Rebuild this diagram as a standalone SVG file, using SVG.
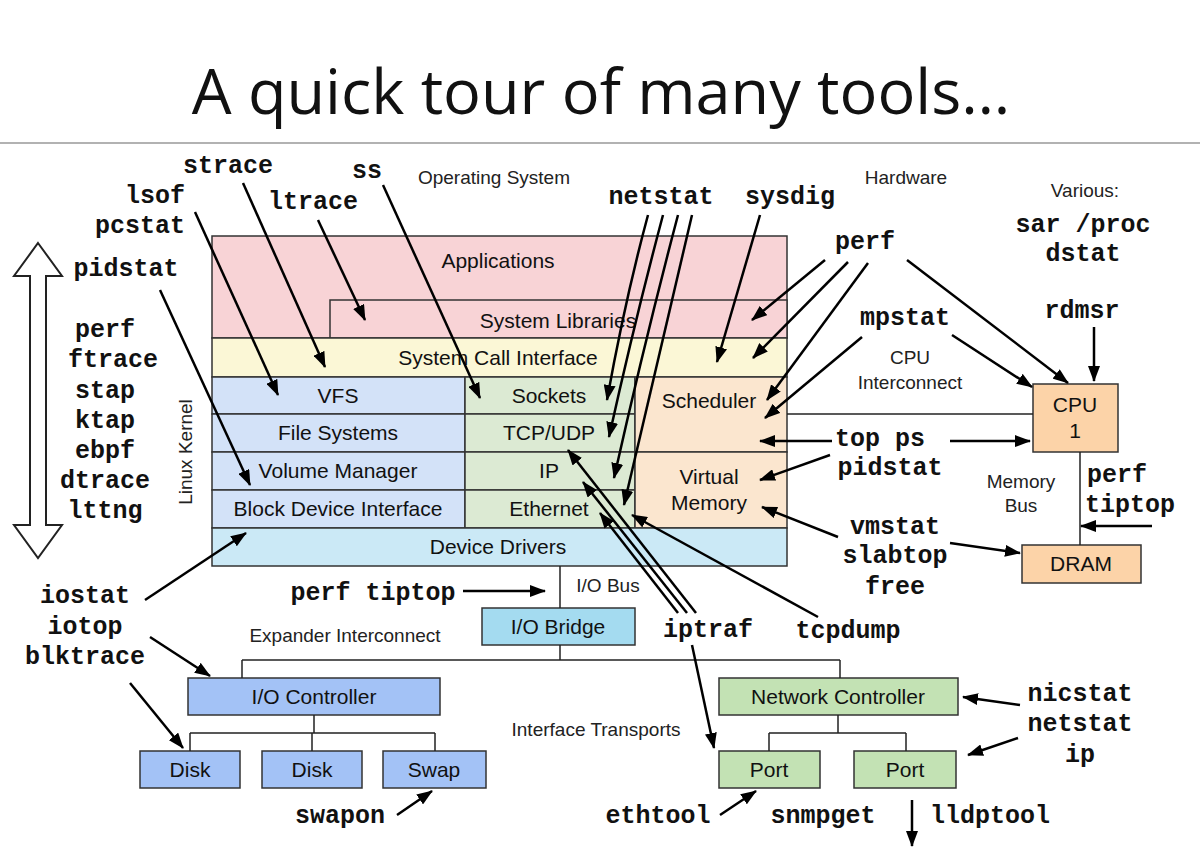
<svg xmlns="http://www.w3.org/2000/svg" width="1200" height="858" viewBox="0 0 1200 858">
<defs>
<marker id="ah" markerWidth="16" markerHeight="12" refX="15" refY="6" orient="auto" markerUnits="userSpaceOnUse"><path d="M0,0 L16,6 L0,12 Z" fill="#000"/></marker>
<style>
.t{font-family:"Liberation Mono",monospace;font-weight:bold;font-size:25px;fill:#111;text-anchor:middle}
.s{font-family:"Liberation Sans",Arial,sans-serif;font-size:21px;fill:#111;text-anchor:middle}
.l{font-family:"Liberation Sans",Arial,sans-serif;font-size:19px;fill:#222;text-anchor:middle}
.b{stroke:#333;stroke-width:1.5}
.a{stroke:#000;stroke-width:2.5;fill:none;marker-end:url(#ah)}
.w{stroke:#222;stroke-width:1.5;fill:none}
</style>
</defs>
<rect width="1200" height="858" fill="#fff"/>
<text x="601" y="114" font-family="Open Sans,Liberation Sans,sans-serif" font-size="63" text-anchor="middle" fill="#111">A quick tour of many tools…</text>
<line x1="0" y1="143" x2="1200" y2="143" stroke="#999" stroke-width="1.5"/>

<g id="os">
<rect id="applications" class="b" x="212" y="236" width="575" height="102" fill="#f8d3d6"/>
<rect id="syslib" class="b" x="330" y="300" width="457" height="38" fill="#f8d3d6"/>
<rect id="syscall" class="b" x="212" y="338" width="575" height="39" fill="#fbf7d6"/>
<rect id="vfs" class="b" x="212" y="377" width="253" height="37" fill="#d3e2f8"/>
<rect id="fs" class="b" x="212" y="414" width="253" height="38" fill="#d3e2f8"/>
<rect id="vm" class="b" x="212" y="452" width="253" height="38" fill="#d3e2f8"/>
<rect id="bdi" class="b" x="212" y="490" width="253" height="38" fill="#d3e2f8"/>
<rect id="sockets" class="b" x="465" y="377" width="170" height="37" fill="#dcead3"/>
<rect id="tcp" class="b" x="465" y="414" width="170" height="38" fill="#dcead3"/>
<rect id="ip" class="b" x="465" y="452" width="170" height="38" fill="#dcead3"/>
<rect id="eth" class="b" x="465" y="490" width="170" height="38" fill="#dcead3"/>
<rect id="sched" class="b" x="635" y="377" width="152" height="75" fill="#fbe6cf"/>
<rect id="virt" class="b" x="635" y="452" width="152" height="76" fill="#fbe6cf"/>
<rect id="dd" class="b" x="212" y="528" width="575" height="38" fill="#cbe9f6"/>
<text class="s" x="498" y="268">Applications</text>
<text class="s" x="558" y="328">System Libraries</text>
<text class="s" x="498" y="365">System Call Interface</text>
<text class="s" x="338" y="403">VFS</text>
<text class="s" x="338" y="440">File Systems</text>
<text class="s" x="338" y="478">Volume Manager</text>
<text class="s" x="338" y="516">Block Device Interface</text>
<text class="s" x="549" y="403">Sockets</text>
<text class="s" x="549" y="440">TCP/UDP</text>
<text class="s" x="549" y="478">IP</text>
<text class="s" x="549" y="516">Ethernet</text>
<text class="s" x="709" y="408">Scheduler</text>
<text class="s" x="709" y="484">Virtual</text>
<text class="s" x="709" y="510">Memory</text>
<text class="s" x="498" y="554">Device Drivers</text>
<text class="l" transform="translate(192,452) rotate(-90)">Linux Kernel</text>
</g>

<g id="cpu"><rect class="b" x="1033" y="384" width="85" height="68" fill="#fcd3a8"/><text class="s" x="1075" y="412">CPU</text><text class="s" x="1075" y="438">1</text></g>
<g id="dram"><rect class="b" x="1022" y="545" width="119" height="38" fill="#fcd3a8"/><text class="s" x="1081" y="571">DRAM</text></g>
<g id="iobridge"><rect class="b" x="482" y="608" width="153" height="37" fill="#a4dbf0"/><text class="s" x="558" y="634">I/O Bridge</text></g>
<g id="ioctrl"><rect class="b" x="188" y="678" width="252" height="37" fill="#a3c2f6"/><text class="s" x="314" y="704">I/O Controller</text></g>
<g id="disk1"><rect class="b" x="140" y="751" width="100" height="37" fill="#a3c2f6"/><text class="s" x="190" y="777">Disk</text></g>
<g id="disk2"><rect class="b" x="262" y="751" width="100" height="37" fill="#a3c2f6"/><text class="s" x="312" y="777">Disk</text></g>
<g id="swap"><rect class="b" x="383" y="751" width="103" height="37" fill="#a3c2f6"/><text class="s" x="434" y="777">Swap</text></g>
<g id="netctrl"><rect class="b" x="719" y="678" width="239" height="37" fill="#c3e2b4"/><text class="s" x="838" y="704">Network Controller</text></g>
<g id="port1"><rect class="b" x="719" y="751" width="101" height="37" fill="#c3e2b4"/><text class="s" x="769" y="777">Port</text></g>
<g id="port2"><rect class="b" x="854" y="751" width="102" height="37" fill="#c3e2b4"/><text class="s" x="905" y="777">Port</text></g>

<g id="wires">
<line class="w" x1="787" y1="414" x2="1033" y2="414"/>
<line class="w" x1="1080" y1="452" x2="1080" y2="545"/>
<line class="w" x1="560" y1="566" x2="560" y2="608"/>
<line class="w" x1="560" y1="645" x2="560" y2="660"/>
<line class="w" x1="242" y1="660" x2="840" y2="660"/>
<line class="w" x1="242" y1="660" x2="242" y2="678"/>
<line class="w" x1="840" y1="660" x2="840" y2="678"/>
<path class="w" d="M314,715 V733 M190,733 H435 M190,733 V751 M312,733 V751 M435,733 V751"/>
<path class="w" d="M838,715 V733 M769,733 H906 M769,733 V751 M906,733 V751"/>
</g>

<g id="labels">
<text class="l" x="494" y="184">Operating System</text>
<text class="l" x="906" y="184">Hardware</text>
<text class="l" x="1085" y="197">Various:</text>
<text class="l" x="910" y="364">CPU</text>
<text class="l" x="910" y="389">Interconnect</text>
<text class="l" x="1021" y="488">Memory</text>
<text class="l" x="1021" y="512">Bus</text>
<text class="l" x="608" y="592">I/O Bus</text>
<text class="l" x="345" y="642">Expander Interconnect</text>
<text class="l" x="596" y="736">Interface Transports</text>
<text class="t" x="228" y="173">strace</text>
<text class="t" x="367" y="178">ss</text>
<text class="t" x="661" y="204">netstat</text>
<text class="t" x="790" y="204">sysdig</text>
<text class="t" x="1083" y="232">sar /proc</text>
<text class="t" x="1083" y="261">dstat</text>
<text class="t" x="155" y="203">lsof</text>
<text class="t" x="313" y="209">ltrace</text>
<text class="t" x="140" y="233">pcstat</text>
<text class="t" x="126" y="276">pidstat</text>
<text class="t" x="865" y="249">perf</text>
<text class="t" x="1082" y="318">rdmsr</text>
<text class="t" x="905" y="325">mpstat</text>
<text class="t" x="105" y="337">perf</text>
<text class="t" x="113" y="367">ftrace</text>
<text class="t" x="105" y="398">stap</text>
<text class="t" x="105" y="428">ktap</text>
<text class="t" x="105" y="458">ebpf</text>
<text class="t" x="105" y="488">dtrace</text>
<text class="t" x="105" y="518">lttng</text>
<text class="t" x="880" y="446">top ps</text>
<text class="t" x="890" y="475">pidstat</text>
<text class="t" x="1117" y="482">perf</text>
<text class="t" x="1130" y="512">tiptop</text>
<text class="t" x="895" y="534">vmstat</text>
<text class="t" x="895" y="563">slabtop</text>
<text class="t" x="895" y="594">free</text>
<text class="t" x="85" y="603">iostat</text>
<text class="t" x="85" y="634">iotop</text>
<text class="t" x="85" y="664">blktrace</text>
<text class="t" x="373" y="600">perf tiptop</text>
<text class="t" x="708" y="637">iptraf</text>
<text class="t" x="848" y="638">tcpdump</text>
<text class="t" x="1080" y="701">nicstat</text>
<text class="t" x="1080" y="731">netstat</text>
<text class="t" x="1080" y="762">ip</text>
<text class="t" x="340" y="823">swapon</text>
<text class="t" x="658" y="823">ethtool</text>
<text class="t" x="823" y="823">snmpget</text>
<text class="t" x="990" y="823">lldptool</text>
</g>

<g id="connectors">
<path d="M38,243 L62,276 L46,276 L46,525 L62,525 L38,558 L14,525 L30,525 L30,276 L14,276 Z" fill="#fff" stroke="#222" stroke-width="2"/>
<line class="a" x1="243" y1="183" x2="325" y2="367"/>
<line class="a" x1="195" y1="212" x2="278" y2="395"/>
<line class="a" x1="318" y1="220" x2="365" y2="320"/>
<line class="a" x1="383" y1="185" x2="480" y2="398"/>
<line class="a" x1="160" y1="290" x2="250" y2="485"/>
<path class="a" d="M648,215 Q625,300 607,400"/>
<path class="a" d="M663,215 Q635,320 609,437"/>
<path class="a" d="M678,215 Q645,340 614,478"/>
<path class="a" d="M692,215 Q660,350 624,505"/>
<line class="a" x1="760" y1="215" x2="717" y2="362"/>
<line class="a" x1="825" y1="260" x2="752" y2="320"/>
<line class="a" x1="848" y1="262" x2="753" y2="358"/>
<line class="a" x1="868" y1="263" x2="767" y2="400"/>
<line class="a" x1="907" y1="260" x2="1068" y2="383"/>
<line class="a" x1="862" y1="337" x2="765" y2="418"/>
<line class="a" x1="952" y1="335" x2="1032" y2="387"/>
<line class="a" x1="1094" y1="327" x2="1094" y2="381"/>
<line class="a" x1="832" y1="441" x2="760" y2="441"/>
<line class="a" x1="950" y1="441" x2="1030" y2="441"/>
<line class="a" x1="830" y1="455" x2="760" y2="480"/>
<line class="a" x1="838" y1="537" x2="762" y2="507"/>
<line class="a" x1="950" y1="543" x2="1020" y2="553"/>
<line class="a" x1="1152" y1="526" x2="1081" y2="526"/>
<line class="a" x1="818" y1="617" x2="632" y2="515"/>
<line class="a" x1="696" y1="613" x2="568" y2="450"/>
<line class="a" x1="687" y1="613" x2="583" y2="482"/>
<line class="a" x1="678" y1="613" x2="600" y2="513"/>
<line class="a" x1="692" y1="645" x2="714" y2="748"/>
<line class="a" x1="145" y1="600" x2="246" y2="533"/>
<line class="a" x1="463" y1="591" x2="545" y2="591"/>
<line class="a" x1="150" y1="637" x2="210" y2="676"/>
<line class="a" x1="130" y1="683" x2="183" y2="748"/>
<line class="a" x1="397" y1="815" x2="432" y2="791"/>
<line class="a" x1="720" y1="815" x2="756" y2="791"/>
<line class="a" x1="1020" y1="705" x2="963" y2="697"/>
<line class="a" x1="1018" y1="738" x2="968" y2="755"/>
<line class="a" x1="912" y1="800" x2="912" y2="846"/>
</g>
</svg>
